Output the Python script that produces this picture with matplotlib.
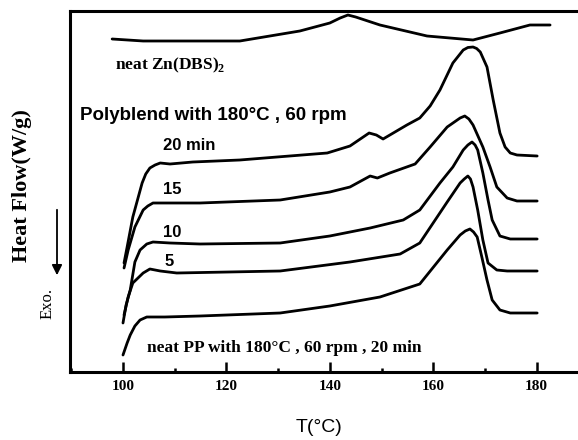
import matplotlib
matplotlib.use("Agg")
import matplotlib.pyplot as plt
from matplotlib.ticker import MultipleLocator

plt.rcParams["mathtext.fontset"] = "custom"
plt.rcParams["mathtext.rm"] = "Liberation Serif"
plt.rcParams["mathtext.bf"] = "Liberation Serif:bold"

# ---- data (heat flow in arbitrary offset units) ----
T_zn = [97.9, 103.9, 122.6, 134.2, 140.0, 142.0, 143.5, 145.0, 149.7, 158.8, 167.7, 172.9, 178.7, 182.6]
H_zn = [3.33, 3.31, 3.31, 3.41, 3.49, 3.54, 3.57, 3.55, 3.47, 3.36, 3.32, 3.39, 3.47, 3.47]

T_20 = [100.2, 100.8, 101.9, 103.7, 104.4, 105.2, 106.2, 107.2, 109.1, 113.5, 122.6, 129.8, 139.5,
        143.9, 147.6, 149.0, 150.3, 154.9, 157.4, 159.4, 161.3, 163.8, 165.8, 166.7, 167.7, 168.4,
        169.1, 170.4, 171.6, 172.9, 173.9, 174.9, 176.2, 180.1]
H_20 = [1.09, 1.25, 1.55, 1.89, 1.98, 2.04, 2.07, 2.09, 2.08, 2.10, 2.12, 2.15, 2.19,
        2.26, 2.39, 2.37, 2.33, 2.47, 2.54, 2.66, 2.82, 3.09, 3.22, 3.245, 3.25, 3.235,
        3.20, 3.05, 2.72, 2.39, 2.25, 2.19, 2.17, 2.16]

T_15 = [100.2, 101.0, 102.3, 103.9, 104.8, 105.8, 107.7, 114.9, 130.4, 140.0, 143.9, 147.8, 149.2,
        151.6, 156.5, 159.4, 162.7, 165.2, 166.1, 166.9, 167.7, 169.6, 171.0, 172.3, 174.3, 176.2, 180.1]
H_15 = [1.04, 1.22, 1.45, 1.62, 1.66, 1.69, 1.69, 1.69, 1.72, 1.80, 1.85, 1.96, 1.94,
        1.99, 2.08, 2.25, 2.45, 2.54, 2.56, 2.53, 2.47, 2.25, 2.05, 1.85, 1.74, 1.71, 1.71]

T_10 = [100.0, 100.6, 101.4, 102.3, 103.3, 104.6, 105.8, 109.1, 114.9, 130.4, 140.0, 147.8, 154.2,
        157.4, 161.3, 163.8, 165.8, 166.7, 167.5, 168.1, 168.6, 169.6, 170.6, 171.4, 172.9, 174.9, 180.1]
H_10 = [0.49, 0.67, 0.82, 1.10, 1.22, 1.28, 1.30, 1.29, 1.28, 1.29, 1.36, 1.44, 1.52,
        1.62, 1.89, 2.05, 2.22, 2.27, 2.30, 2.27, 2.22, 1.99, 1.72, 1.52, 1.36, 1.33, 1.33]

T_5 = [100.2, 101.0, 101.9, 103.9, 105.2, 107.2, 110.4, 130.4, 143.9, 153.6, 157.4, 162.7, 165.2,
       166.0, 166.7, 167.2, 167.7, 168.6, 169.6, 170.6, 172.3, 174.3, 180.1]
H_5 = [0.57, 0.75, 0.89, 0.99, 1.03, 1.01, 0.99, 1.01, 1.10, 1.18, 1.29, 1.70, 1.89,
       1.93, 1.96, 1.93, 1.85, 1.62, 1.32, 1.09, 1.02, 1.01, 1.01]

T_pp = [100.0, 100.8, 101.4, 102.3, 103.3, 104.6, 105.8, 108.1, 114.9, 130.4, 140.0, 149.7, 157.4,
        162.7, 165.2, 166.2, 167.1, 167.8, 168.5, 169.4, 170.4, 171.4, 172.9, 174.9, 180.1]
H_pp = [0.17, 0.29, 0.37, 0.46, 0.52, 0.55, 0.55, 0.55, 0.56, 0.59, 0.66, 0.75, 0.88,
        1.22, 1.37, 1.41, 1.43, 1.40, 1.35, 1.15, 0.92, 0.72, 0.62, 0.59, 0.59]

x_ticks = [100, 120, 140, 160, 180]

# ---- figure ----
W, H = 578, 440
fig = plt.figure(figsize=(W / 100, H / 100), dpi=100)
ax = fig.add_axes([70 / W, (H - 372) / H, (W - 70) / W, (372 - 11) / H])

for T, Hf in [(T_zn, H_zn), (T_20, H_20), (T_15, H_15), (T_10, H_10), (T_5, H_5), (T_pp, H_pp)]:
    ax.plot(T, Hf, color="black", lw=2.0, solid_joinstyle="round", solid_capstyle="round")

ax.set_xlim(89.75, 188.0)
ax.set_ylim(0, 3.61)
ax.spines["right"].set_visible(False)
for s in ["left", "top", "bottom"]:
    ax.spines[s].set_linewidth(2.2)
ax.set_yticks([])
ax.set_xticks(x_ticks)
ax.xaxis.set_minor_locator(MultipleLocator(10))
ax.tick_params(axis="x", which="major", direction="in", length=7, width=1.8, pad=6)
ax.tick_params(axis="x", which="minor", direction="in", length=3, width=1.8)
for lab in ax.get_xticklabels():
    lab.set_fontfamily("Liberation Serif")
    lab.set_fontweight("bold")
    lab.set_fontsize(11)

serif = "Liberation Serif"
sans = "Liberation Sans"

ax.text(98.5, 3.07, r"neat Zn(DBS)$_\mathbf{2}$", family=serif, weight="bold", fontsize=12.5,
        va="center", ha="left")
ax.text(91.7, 2.56, "Polyblend with 180°C , 60 rpm", family=sans, weight="bold", fontsize=13.5,
        va="center", ha="left")
ax.text(107.7, 2.27, "20 min", family=sans, weight="bold", fontsize=12, va="center", ha="left")
ax.text(107.7, 1.82, "15", family=sans, weight="bold", fontsize=12, va="center", ha="left")
ax.text(107.7, 1.40, "10", family=sans, weight="bold", fontsize=12, va="center", ha="left")
ax.text(108.1, 1.11, "5", family=sans, weight="bold", fontsize=12, va="center", ha="left")
ax.text(104.6, 0.24, "neat PP with 180°C , 60 rpm , 20 min", family=serif, weight="bold",
        fontsize=12.5, va="center", ha="left")

fig.text(319 / W, 1 - 427 / H, "T(°C)", family=sans, fontsize=14, ha="center", va="center")
fig.text(22 / W, 1 - 186 / H, "Heat Flow(W/g)", family=serif, weight="bold", fontsize=16,
         rotation=90, ha="center", va="center")
fig.text(48 / W, 1 - 303 / H, "Exo.", family=serif, fontsize=12, rotation=90, ha="center", va="center")
fig.patches.append(matplotlib.patches.FancyArrowPatch(
    (57 / W, 1 - 207 / H), (57 / W, 1 - 278 / H), transform=fig.transFigure,
    arrowstyle="-|>,head_length=4,head_width=2", color="black", lw=1.3, mutation_scale=1.5))

fig.savefig("out.png", dpi=100)
